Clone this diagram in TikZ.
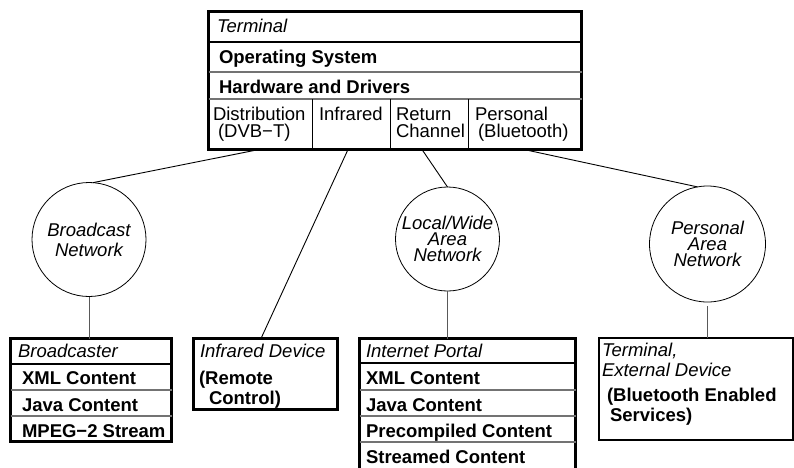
\documentclass[tikz,border=0pt]{standalone}
\usepackage{fontspec}
\setmainfont{Liberation Sans}
\begin{document}
\begin{tikzpicture}[x=1pt,y=-1pt,
  every node/.style={inner sep=0pt, outer sep=0pt},
  txt/.style={anchor=base west, font=\fontsize{18.5}{16.5}\selectfont},
  hdr/.style={anchor=base west, font=\fontsize{18.5}{16.5}\selectfont\itshape},
  bld/.style={anchor=base west, font=\fontsize{18.5}{16.5}\selectfont\bfseries},
  box/.style={draw, line width=3pt, anchor=north west},
  net/.style={draw, circle, line width=0.8pt, align=center},
  hline/.style={line width=2.2pt},
  gline/.style={line width=1.3pt, black!55},
  vline/.style={line width=1pt},
  conn/.style={line width=0.9pt},
  vconn/.style={line width=1pt, black!65}
]
\useasboundingbox (0,0) rectangle (794,467);

% Terminal box
\node[box, minimum width=373pt, minimum height=138pt] (term) at (208.5,11.5) {};
\draw[hline] (208.5,42) -- (581.5,42);
\draw[gline] (208.5,72) -- (581.5,72);
\draw[gline] (208.5,99) -- (581.5,99);
\draw[vline] (312,99) -- (312,149.5);
\draw[vline] (390,99) -- (390,149.5);
\draw[vline] (468,99) -- (468,149.5);
\node[hdr] (tT) at (217,32) {Terminal};
\node[bld] (tOS) at (219,63) {Operating System};
\node[bld] (tHW) at (219,93) {Hardware and Drivers};
\node[txt] (tD1) at (213,120) {Distribution};
\node[txt] (tD2) at (218,137) {(DVB−T)};
\node[txt] (tI) at (319,120) {Infrared};
\node[txt] (tR1) at (396,120) {Return};
\node[txt] (tR2) at (396,137) {Channel};
\node[txt] (tP1) at (475,120) {Personal};
\node[txt] (tP2) at (478,137) {(Bluetooth)};

% Networks
\node[net, minimum size=114pt, font=\fontsize{18.5}{20}\selectfont\itshape] (bcast) at (89,239.5) {Broadcast\\Network};
\node[net, minimum size=104pt, font=\fontsize{18.5}{16}\selectfont\itshape] (lan) at (447.5,239) {Local/Wide\\Area\\Network};
\node[net, minimum size=116pt, font=\fontsize{18.5}{16}\selectfont\itshape] (pan) at (707.5,244) {Personal\\Area\\Network};

% Broadcaster
\node[box, minimum width=161pt, minimum height=103pt] (bcaster) at (10.5,338.5) {};
\draw[hline] (10.5,364) -- (171.5,364);
\draw[gline] (10.5,390) -- (171.5,390);
\draw[gline] (10.5,416) -- (171.5,416);
\node[hdr] (b0) at (18,357) {Broadcaster};
\node[bld] (b1) at (22,384) {XML Content};
\node[bld] (b2) at (22,411) {Java Content};
\node[bld] (b3) at (22,437) {MPEG−2 Stream};

% Infrared device
\node[box, minimum width=144pt, minimum height=71pt] (irdev) at (193.5,338.5) {};
\node[hdr] (i0) at (200,357) {Infrared Device};
\node[bld] (i1) at (199,384) {(Remote};
\node[bld] (i2) at (209,404) {Control)};

% Internet portal
\node[box, minimum width=216pt, minimum height=133pt] (portal) at (359.5,338.5) {};
\draw[hline] (359.5,363) -- (575.5,363);
\draw[gline] (359.5,390) -- (575.5,390);
\draw[gline] (359.5,416) -- (575.5,416);
\draw[gline] (359.5,442) -- (575.5,442);
\node[hdr] (p0) at (366,357) {Internet Portal};
\node[bld] (p1) at (366,384) {XML Content};
\node[bld] (p2) at (366,411) {Java Content};
\node[bld] (p3) at (366,437) {Precompiled Content};
\node[bld] (p4) at (366,463) {Streamed Content};

% Terminal, external device
\node[draw, line width=2pt, anchor=north west, minimum width=193.5pt, minimum height=102pt] (ext) at (599,338) {};
\node[hdr] (e0) at (602,356) {Terminal,};
\node[hdr] (e1) at (602,376) {External Device};
\node[bld] (e2) at (607,401) {(Bluetooth Enabled};
\node[bld] (e3) at (610,421) {Services)};

% Connectors
\coordinate (c1) at ([xshift=50.5pt]term.south west);
\coordinate (c2) at ([xshift=139.5pt]term.south west);
\coordinate (c3) at ([xshift=213.5pt]term.south west);
\coordinate (c4) at ([xshift=315.5pt]term.south west);
\coordinate (c5) at ([xshift=67.5pt]irdev.north west);
\draw[conn] (c1) -- (bcast.86);
\draw[conn] (c2) -- (c5);
\draw[conn] (c3) -- (lan.north);
\draw[conn] (c4) -- (pan.100);
\draw[vconn] (bcast.south) -- (bcast.south |- bcaster.north);
\draw[vconn] (lan.south) -- (lan.south |- portal.north);
\draw[vconn] ([yshift=-4pt]pan.south) -- (pan.south |- ext.north);
\end{tikzpicture}
\end{document}
